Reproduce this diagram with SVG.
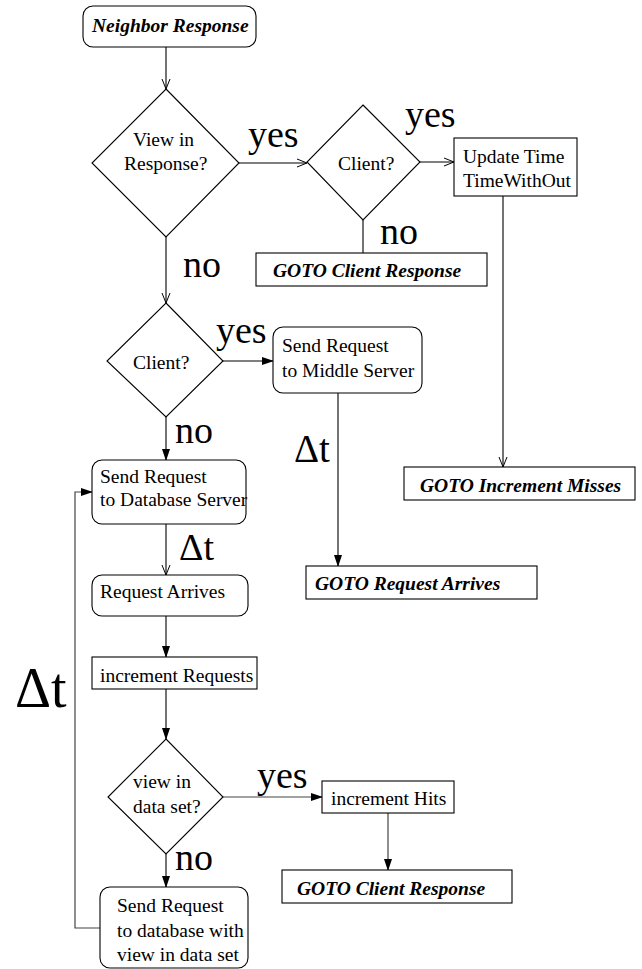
<svg xmlns="http://www.w3.org/2000/svg" width="642" height="969" viewBox="0 0 642 969">
<style>
.s{fill:#fff;stroke:#000;stroke-width:1.1}
.t{font-family:"Liberation Serif","Times New Roman",serif;font-size:19.5px;fill:#000}
.b{font-family:"Liberation Serif","Times New Roman",serif;font-size:19.5px;font-weight:bold;font-style:italic;fill:#000}
.L{font-family:"Liberation Serif","Times New Roman",serif;font-size:38px;fill:#000}
.c{fill:none;stroke:#000;stroke-width:1.1}
.g{fill:none;stroke:#444;stroke-width:1.2}
</style>
<defs>
<marker id="o" markerWidth="12" markerHeight="10" refX="11" refY="5" orient="auto" markerUnits="userSpaceOnUse"><path d="M1,1 L11,5 L1,9" fill="none" stroke="#000" stroke-width="1"/></marker>
<marker id="f" markerWidth="12" markerHeight="10" refX="11" refY="5" orient="auto" markerUnits="userSpaceOnUse"><path d="M0,1 L12,5 L0,9 Z" fill="#000"/></marker>
</defs>
<g id="connectors">
<line class="c" x1="166" y1="47" x2="166" y2="89" marker-end="url(#o)"/>
<line class="c" x1="239" y1="163" x2="307" y2="163" marker-end="url(#o)"/>
<line class="c" x1="420" y1="162" x2="454" y2="162" marker-end="url(#o)"/>
<line class="c" x1="363" y1="220" x2="363" y2="253"/>
<line class="c" x1="503" y1="196" x2="503" y2="467" marker-end="url(#o)"/>
<line class="c" x1="166" y1="237" x2="166" y2="303" marker-end="url(#o)"/>
<line class="c" x1="223" y1="361" x2="273" y2="361" marker-end="url(#f)"/>
<line class="c" x1="338" y1="393" x2="338" y2="566" marker-end="url(#f)"/>
<line class="c" x1="166" y1="417" x2="166" y2="460" marker-end="url(#f)"/>
<line class="c" x1="166" y1="524" x2="166" y2="575" marker-end="url(#o)"/>
<line class="c" x1="166" y1="616" x2="166" y2="657" marker-end="url(#f)"/>
<line class="c" x1="166" y1="689" x2="166" y2="739" marker-end="url(#f)"/>
<line class="g" x1="223" y1="797" x2="322" y2="797" marker-end="url(#f)"/>
<line class="g" x1="388" y1="813" x2="388" y2="870" marker-end="url(#f)"/>
<line class="c" x1="166" y1="854" x2="166" y2="887" marker-end="url(#f)"/>
<polyline class="g" points="100,928 75,928 75,492 92,492" marker-end="url(#f)"/>
</g>
<g id="labels">
<text class="L" x="248" y="147">yes</text>
<text class="L" x="405" y="127">yes</text>
<text class="L" x="216" y="343">yes</text>
<text class="L" x="257" y="788">yes</text>
<text class="L" x="183" y="277">no</text>
<text class="L" x="380" y="244">no</text>
<text class="L" x="175" y="443">no</text>
<text class="L" x="175" y="870">no</text>
<text class="L" x="294" y="462" style="font-size:39px">Δt</text>
<text class="L" x="179" y="560">Δt</text>
<text class="L" x="15" y="707" style="font-size:56px">Δt</text>
</g>
<g id="neighbor-response"><rect class="s" x="83" y="6" width="173" height="41" rx="10"/><text class="b" x="92" y="32">Neighbor Response</text></g>
<g id="view-in-response"><polygon class="s" points="166,89 239,163 166,237 92,163"/><text class="t" x="133" y="146">View in</text><text class="t" x="124" y="170">Response?</text></g>
<g id="client-1"><polygon class="s" points="363,105 420,162 363,220 307,162"/><text class="t" x="338" y="170">Client?</text></g>
<g id="update-time"><rect class="s" x="454" y="138" width="123" height="58"/><text class="t" x="463" y="163">Update Time</text><text class="t" x="463" y="187">TimeWithOut</text></g>
<g id="goto-client-response-1"><rect class="s" x="256" y="253" width="231" height="33"/><text class="b" x="273" y="277">GOTO Client Response</text></g>
<g id="goto-increment-misses"><rect class="s" x="404" y="467" width="231" height="33"/><text class="b" x="420" y="492">GOTO Increment Misses</text></g>
<g id="client-2"><polygon class="s" points="166,303 223,361 166,417 107,361"/><text class="t" x="133" y="369">Client?</text></g>
<g id="send-middle"><rect class="s" x="273" y="327" width="149" height="66" rx="10"/><text class="t" x="282" y="352">Send Request</text><text class="t" x="282" y="377">to Middle Server</text></g>
<g id="goto-request-arrives"><rect class="s" x="306" y="566" width="231" height="33"/><text class="b" x="315" y="590">GOTO Request Arrives</text></g>
<g id="send-database"><rect class="s" x="92" y="460" width="154" height="64" rx="10"/><text class="t" x="100" y="483">Send Request</text><text class="t" x="100" y="506">to Database Server</text></g>
<g id="request-arrives"><rect class="s" x="92" y="575" width="156" height="41" rx="10"/><text class="t" x="100" y="598">Request Arrives</text></g>
<g id="increment-requests"><rect class="s" x="92" y="657" width="165" height="32"/><text class="t" x="100" y="682">increment Requests</text></g>
<g id="view-in-data-set"><polygon class="s" points="166,739 223,797 166,854 108,797"/><text class="t" x="133" y="788">view in</text><text class="t" x="133" y="813">data set?</text></g>
<g id="increment-hits"><rect class="s" x="322" y="781" width="132" height="32"/><text class="t" x="331" y="805">increment Hits</text></g>
<g id="goto-client-response-2"><rect class="s" x="282" y="870" width="230" height="33"/><text class="b" x="297" y="895">GOTO Client Response</text></g>
<g id="send-database-with-view"><rect class="s" x="100" y="887" width="148" height="81" rx="10"/><text class="t" x="117" y="912">Send Request</text><text class="t" x="117" y="937">to database with</text><text class="t" x="117" y="961">view in data set</text></g>
</svg>
